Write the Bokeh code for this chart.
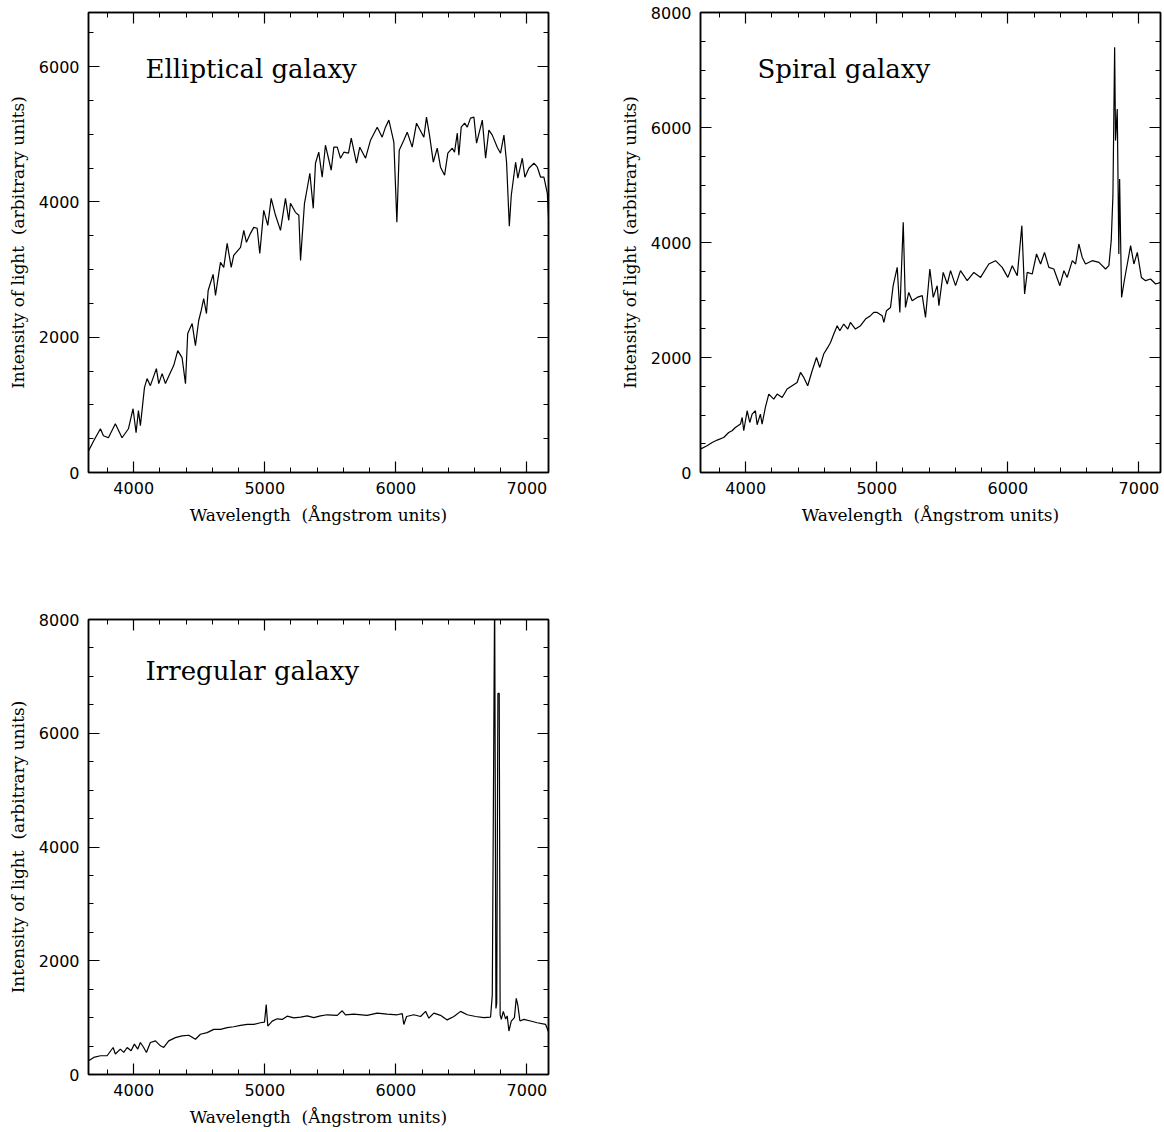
from bokeh.plotting import figure
from bokeh.layouts import gridplot
from bokeh.models import LinearAxis, SingleIntervalTicker, Label, Range1d
from bokeh.embed import file_html
from bokeh.resources import INLINE

# ---------------- data ----------------
ell_wl = [3656, 3695, 3746, 3769, 3807, 3860, 3911, 3960, 3995, 4018, 4036, 4051, 4082, 4102,
          4127, 4173, 4191, 4217, 4242, 4280, 4305, 4336, 4369, 4395, 4412, 4446, 4471, 4496,
          4515, 4534, 4555, 4568, 4606, 4624, 4641, 4662, 4687, 4713, 4744, 4763, 4815, 4840,
          4860, 4891, 4916, 4942, 4962, 4992, 5023, 5049, 5082, 5120, 5158, 5183, 5196, 5234,
          5260, 5273, 5303, 5324, 5344, 5370, 5387, 5412, 5438, 5463, 5507, 5527, 5553, 5578,
          5603, 5639, 5660, 5700, 5725, 5769, 5807, 5858, 5896, 5921, 5947, 5985, 6008, 6026,
          6061, 6087, 6125, 6158, 6214, 6234, 6257, 6286, 6316, 6341, 6372, 6397, 6431, 6448,
          6469, 6481, 6499, 6525, 6545, 6570, 6596, 6616, 6660, 6685, 6710, 6736, 6774, 6799,
          6825, 6845, 6866, 6881, 6914, 6931, 6965, 6985, 7015, 7054, 7080, 7105, 7130, 7156,
          7168]
ell_flux = [321, 469, 647, 544, 514, 721, 514, 647, 943, 588, 914, 692, 1254, 1388,
            1284, 1536, 1314, 1462, 1314, 1477, 1580, 1802, 1699, 1314, 2054, 2202, 1876, 2247,
            2395, 2572, 2350, 2691, 2928, 2617, 2839, 3106, 3032, 3387, 3032, 3209, 3328, 3580,
            3402, 3535, 3624, 3610, 3239, 3876, 3654, 4053, 3802, 3580, 4053, 3728, 3979, 3846,
            3802, 3135, 3979, 4202, 4424, 3905, 4572, 4735, 4365, 4838, 4468, 4809, 4809, 4646,
            4735, 4720, 4942, 4572, 4809, 4646, 4913, 5105, 4957, 5105, 5209, 4883, 3698, 4764,
            4913, 5031, 4809, 5164, 4957, 5253, 4987, 4587, 4794, 4513, 4394, 4720, 4794, 4735,
            5016, 4690, 5105, 5164, 5105, 5238, 5253, 4868, 5209, 4646, 5061, 4987, 4809, 4720,
            4987, 4587, 3639, 4098, 4587, 4350, 4646, 4365, 4498, 4572, 4513, 4365, 4365, 4128,
            3654]

spi_wl = [3654, 3705, 3744, 3782, 3832, 3870, 3896, 3921, 3960, 3973, 3985, 4011, 4031, 4049,
          4074, 4087, 4112, 4125, 4150, 4176, 4214, 4240, 4278, 4316, 4354, 4392, 4418, 4443,
          4473, 4507, 4540, 4565, 4595, 4626, 4647, 4672, 4698, 4718, 4748, 4779, 4799, 4837,
          4876, 4914, 4952, 4977, 5003, 5041, 5054, 5074, 5105, 5125, 5156, 5176, 5202, 5219,
          5244, 5270, 5308, 5347, 5372, 5405, 5431, 5461, 5474, 5507, 5538, 5563, 5601, 5639,
          5690, 5741, 5792, 5855, 5906, 5957, 6000, 6034, 6072, 6107, 6128, 6148, 6186, 6219,
          6250, 6280, 6313, 6351, 6397, 6428, 6453, 6492, 6517, 6542, 6568, 6593, 6644, 6695,
          6746, 6771, 6789, 6802, 6815, 6822, 6835, 6847, 6853, 6868, 6891, 6937, 6962, 6988,
          7019, 7051, 7089, 7128, 7166]
spi_flux = [407, 465, 522, 564, 609, 696, 726, 783, 842, 957, 726, 1074, 870, 1016,
            1074, 830, 1016, 842, 1131, 1364, 1277, 1364, 1305, 1451, 1509, 1566, 1740, 1653,
            1509, 1770, 2001, 1827, 2060, 2175, 2262, 2408, 2553, 2466, 2582, 2495, 2610, 2495,
            2553, 2669, 2727, 2784, 2784, 2727, 2610, 2814, 2871, 3249, 3567, 2784, 4350, 2871,
            3132, 2988, 3045, 3075, 2697, 3539, 3045, 3249, 2901, 3480, 3278, 3510, 3249, 3510,
            3336, 3480, 3393, 3626, 3684, 3567, 3393, 3597, 3423, 4293, 3104, 3480, 3452, 3800,
            3626, 3828, 3567, 3539, 3249, 3510, 3393, 3684, 3626, 3974, 3741, 3626, 3684, 3654,
            3539, 3597, 4032, 4815, 7395, 5772, 6323, 3800, 5105, 3045, 3365, 3945, 3626, 3828,
            3393, 3336, 3365, 3278, 3306]

irr_wl = [3656, 3695, 3746, 3797, 3843, 3860, 3898, 3924, 3950, 3980, 4005, 4031, 4051, 4076,
          4097, 4127, 4166, 4204, 4229, 4267, 4318, 4369, 4420, 4471, 4509, 4560, 4611, 4662,
          4713, 4763, 4815, 4866, 4916, 4967, 4998, 5011, 5023, 5057, 5095, 5133, 5171, 5222,
          5273, 5324, 5374, 5425, 5476, 5553, 5591, 5616, 5679, 5781, 5858, 5934, 6011, 6049,
          6061, 6082, 6137, 6189, 6227, 6252, 6290, 6341, 6392, 6443, 6494, 6545, 6609, 6672,
          6723, 6736, 6754, 6764, 6770, 6779, 6789, 6796, 6805, 6820, 6838, 6850, 6863, 6881,
          6905, 6919, 6931, 6947, 6977, 7028, 7079, 7143, 7168]
irr_flux = [243, 301, 330, 330, 475, 360, 447, 388, 475, 417, 534, 447, 562, 475,
            388, 562, 591, 504, 475, 591, 649, 678, 690, 620, 707, 736, 794, 794,
            823, 840, 864, 882, 882, 910, 922, 1229, 852, 939, 979, 968, 1026, 997,
            1010, 1030, 1000, 1030, 1050, 1040, 1120, 1050, 1060, 1040, 1080, 1060, 1050, 1070,
            880, 1020, 1050, 1020, 1110, 990, 1080, 1040, 960, 1020, 1110, 1050, 1020, 1000,
            1010, 1400, 8500, 1160, 1250, 6700, 6700, 1050, 970, 1110, 975, 1030, 765, 940,
            1000, 1340, 1220, 940, 970, 940, 910, 880, 735]

titles = ["Elliptical galaxy", "Spiral galaxy", "Irregular galaxy"]
x_label = "Wavelength\u00a0\u00a0(Ångstrom units)"
y_label = "Intensity of light\u00a0\u00a0(arbitrary units)"
x_limits = (3655, 7165)
y_maxes = [6800, 8000, 8000]

TICK_FONT = "DejaVu Sans"
LABEL_FONT = "DejaVu Serif"


def style_axis(ax, visible_labels):
    ax.axis_line_color = "black"
    ax.axis_line_width = 1.5
    ax.major_tick_line_color = "black"
    ax.minor_tick_line_color = "black"
    ax.major_tick_line_width = 1.2
    ax.minor_tick_line_width = 1.0
    ax.major_tick_in = 11
    ax.major_tick_out = 0
    ax.minor_tick_in = 5
    ax.minor_tick_out = 0
    if visible_labels:
        ax.major_label_text_font = TICK_FONT
        ax.major_label_text_font_size = "16px"
        ax.major_label_text_color = "black"
        ax.major_label_standoff = 9
        ax.axis_label_text_font = LABEL_FONT
        ax.axis_label_text_font_size = "17px"
        ax.axis_label_text_font_style = "normal"
        ax.axis_label_text_color = "black"
        ax.axis_label_standoff = 8
    else:
        ax.major_label_text_font_size = "0px"
        ax.major_label_text_color = None
        ax.major_label_standoff = 0
        ax.axis_label = None


def make_panel(wl, flux, ymax, title, width, height, bl, br, bt, bb):
    p = figure(width=width, height=height, output_backend="svg", toolbar_location=None,
               x_range=Range1d(*x_limits), y_range=Range1d(0, ymax),
               min_border_left=bl, min_border_right=br, min_border_top=bt, min_border_bottom=bb,
               x_axis_label=x_label, y_axis_label=y_label)
    p.line(wl, flux, line_color="black", line_width=1.2)
    p.xgrid.visible = False
    p.ygrid.visible = False
    p.outline_line_color = "black"
    p.outline_line_width = 1.5
    p.background_fill_color = "white"
    p.border_fill_color = "white"

    xt = SingleIntervalTicker(interval=1000, num_minor_ticks=5)
    yt = SingleIntervalTicker(interval=2000, num_minor_ticks=4)
    p.xaxis.ticker = xt
    p.yaxis.ticker = yt
    for ax in p.xaxis + p.yaxis:
        style_axis(ax, True)

    top = LinearAxis(ticker=SingleIntervalTicker(interval=1000, num_minor_ticks=5))
    right = LinearAxis(ticker=SingleIntervalTicker(interval=2000, num_minor_ticks=4))
    style_axis(top, False)
    style_axis(right, False)
    p.add_layout(top, "above")
    p.add_layout(right, "right")

    p.add_layout(Label(x=57, y=404, x_units="screen", y_units="screen", text=title,
                       text_font=LABEL_FONT, text_font_size="26px", text_color="black",
                       text_baseline="alphabetic"))
    return p


p1 = make_panel(ell_wl, ell_flux, y_maxes[0], titles[0], 612, 603, 88, 64, 12, 131)
p2 = make_panel(spi_wl, spi_flux, y_maxes[1], titles[1], 552, 603, 88, 4, 12, 131)
p3 = make_panel(irr_wl, irr_flux, y_maxes[2], titles[2], 612, 526, 88, 64, 16, 50)

grid = gridplot([[p1, p2], [p3, None]], toolbar_location=None)

open("out.html", "w").write(file_html(grid, INLINE))
